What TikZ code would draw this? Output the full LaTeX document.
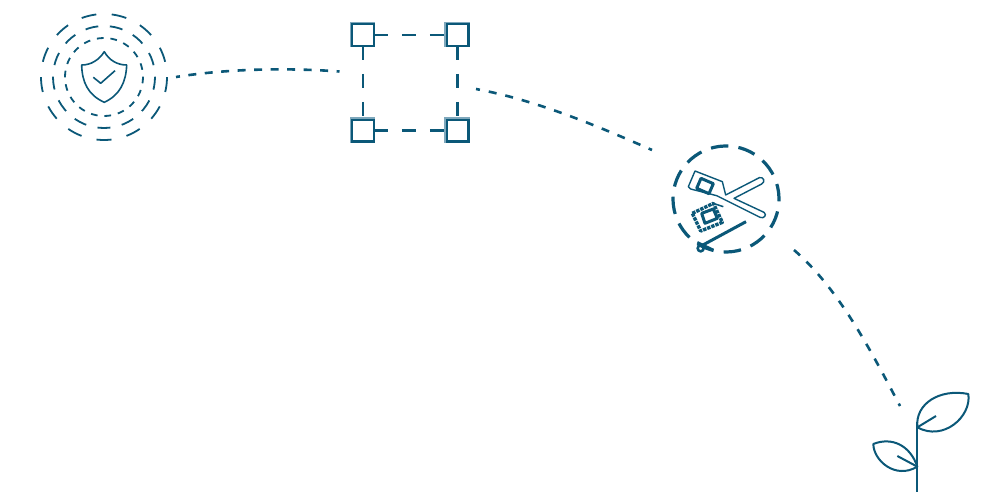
\documentclass[tikz,border=0pt]{standalone}
\definecolor{ink}{HTML}{0B5878}
\definecolor{inklight}{HTML}{7FA8BC}
\tikzset{
  ink line/.style={draw=ink,line width=#1,line cap=butt,line join=round},
  corner/.style={rectangle,draw=ink,fill=white,line width=2.4pt,minimum size=21.6pt,inner sep=0pt,outer sep=0pt},
  bridge/.style={draw=ink,line width=2.2pt,dash pattern=on 14pt off 14pt},
  trail/.style={draw=ink,line width=2.6pt,dash pattern=on 8pt off 9pt},
}
\begin{document}
\begin{tikzpicture}[x=1pt,y=-1pt]
\useasboundingbox (0,0) rectangle (1008,503);
% rings
\coordinate (shieldc) at (104,77);
\draw[ink line=1.8pt,dash pattern=on 15pt off 15.45pt,dash phase=7.5pt,rotate around={-90:(shieldc)}] (shieldc) circle[radius=63];
\draw[ink line=1.8pt,dash pattern=on 13pt off 11.65pt,dash phase=6.5pt,rotate around={-90:(shieldc)}] (shieldc) circle[radius=51];
\draw[ink line=1.8pt,dash pattern=on 6.7pt off 6.91pt,dash phase=3.35pt,rotate around={95.6:(shieldc)}] (shieldc) circle[radius=39];
% shield
\draw[ink line=1.6pt] (104.3,51.7) .. controls (99,60) and (91,65) .. (81.7,65)
  .. controls (82,82) and (88,95) .. (104.3,102.3)
  .. controls (120,95) and (126,82) .. (126.7,65)
  .. controls (117,65) and (109,60) .. (104.3,51.7) -- cycle;
\draw[ink line=1.6pt] (93.3,77.3) -- (100.7,83.3) -- (115,70.7);
% squares
\foreach \n/\x/\y in {a/363/35,b/457.5/35,c/363/130.5,d/457.5/130.5}{
  \fill[inklight] (\x-13.2,\y-13.2) rectangle (\x+12,\y+12);
  \node[corner] (\n) at (\x,\y) {};
}
\draw[bridge] (a.east) -- (b.west);
\draw[bridge] (c.east) -- (d.west);
\draw[bridge] (a.south) -- (c.north);
\draw[bridge] (b.south) -- (d.north);
% dotted trails
\coordinate (t1s) at (176,77); \coordinate (t1e) at (339.5,71.5);
\coordinate (t2s) at (476,89); \coordinate (t2e) at (652,150);
\coordinate (t3s) at (794,250); \coordinate (t3e) at (900,406);
\draw[trail,dash pattern=on 8pt off 8.5pt,dash phase=4pt] (t1s) .. controls (225,69) and (285,67.5) .. (t1e);
\draw[trail,dash phase=4pt] (t2s) .. controls (535,100) and (593,124) .. (t2e);
\draw[trail] (t3s) .. controls (838,288) and (869,347) .. (t3e);
% cutter ring
\coordinate (cutc) at (726,199);
\draw[ink line=3.2pt,dash pattern=on 17.5pt off 10.25pt,dash phase=8.75pt,rotate around={97:(cutc)}] (cutc) circle[radius=53];
% scissors
\begin{scope}[shift={(660,135)},scale=1/3]
\draw[ink line=1.4pt] (105,108) -- (187,140) -- (197,180) -- (298,128) .. controls (310,124) and (318,140) .. (305,147) -- (222,190) -- (312,232) .. controls (322,240) and (312,252) .. (300,247) -- (170,182) -- (92,162) -- (85,155) -- cycle;
\draw[ink line=3pt] (123,130) -- (160,146) -- (147,176) -- (110,160) -- cycle;
\draw[ink line=3.4pt,densely dotted] (97,235) -- (160,205) -- (187,262)  -- (122,288) -- cycle;
\draw[ink line=1.5pt] (160,205) -- (190,215);
\draw[ink line=3pt] (125,235) -- (160,222) -- (172,250) -- (135,265) -- cycle;
\draw[ink line=3pt] (258,260) -- (125,332);
\draw[ink line=2.6pt] (112,322) -- (160,345);
\draw[ink line=2.6pt] (122,340) circle[radius=9];
\end{scope}
% sprout
\begin{scope}[shift={(860,380)},scale=1/3]
\draw[ink line=2pt] (172,335) -- (172,125);
\draw[ink line=2pt] (172,142) .. controls (165,70) and (240,25) .. (325,42)
  .. controls (335,110) and (250,185) .. (172,142) -- cycle;
\draw[ink line=2pt] (172,142) -- (228,108);
\draw[ink line=2pt] (172,260) .. controls (150,195) and (95,170) .. (40,192)
  .. controls (40,240) and (105,300) .. (172,260) -- cycle;
\draw[ink line=2pt] (172,260) -- (112,228);
\end{scope}
\end{tikzpicture}
\end{document}
